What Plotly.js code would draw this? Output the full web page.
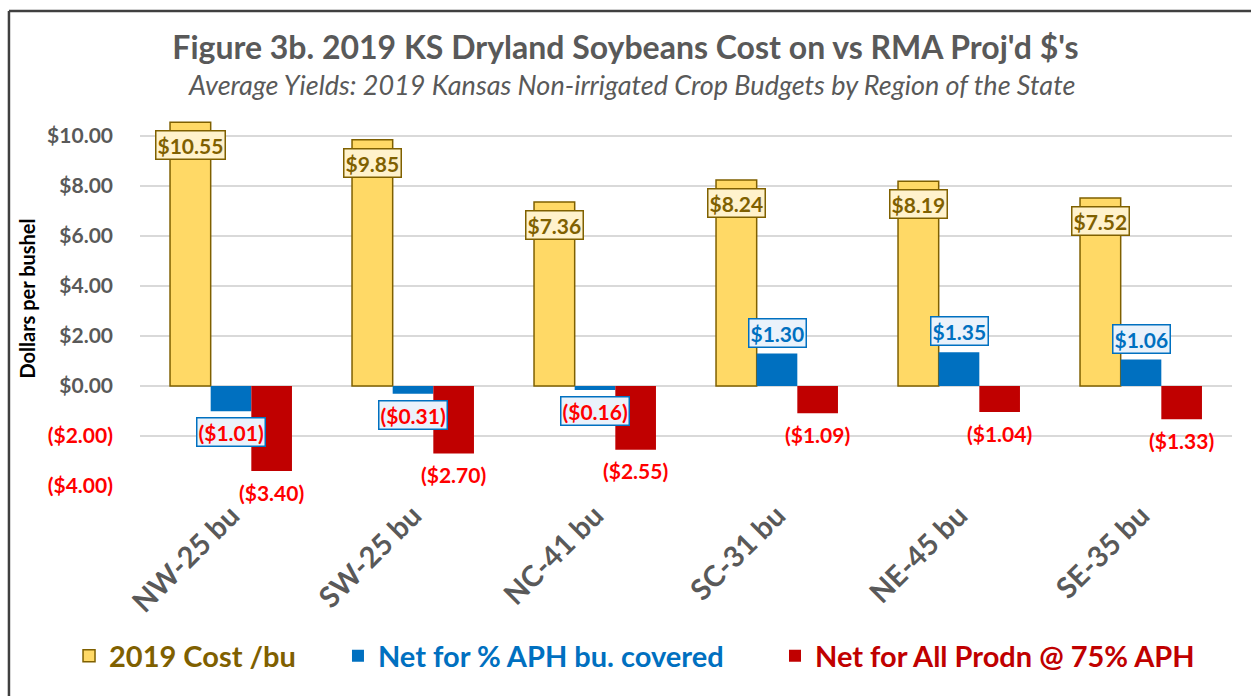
<!DOCTYPE html>
<html>
<head>
<meta charset="utf-8">
<script src="https://cdn.plot.ly/plotly-3.0.1.min.js"></script>
<style>html,body{margin:0;padding:0;background:#fff;}#chart{width:1251px;height:696px;}</style>
</head>
<body>
<div id="chart"></div>
<script>
// ---- data ----
const categories = ['NW-25 bu', 'SW-25 bu', 'NC-41 bu', 'SC-31 bu', 'NE-45 bu', 'SE-35 bu'];
const costPerBu = [10.55, 9.85, 7.36, 8.24, 8.19, 7.52];
const netAphCovered = [-1.01, -0.31, -0.16, 1.30, 1.35, 1.06];
const netAllProdn = [-3.40, -2.70, -2.55, -1.09, -1.04, -1.33];
const seriesNames = ['2019 Cost /bu', 'Net for % APH bu. covered', 'Net for All Prodn @ 75% APH'];
const yTickVals = [-4, -2, 0, 2, 4, 6, 8, 10];

// ---- style ----
const FONT = 'Lato, Carlito, "Liberation Sans", sans-serif';
const GOLD = '#FFD966', GOLD_DARK = '#7F6000';
const BLUE = '#0070C0', RED = '#C00000', RED_TXT = '#FF0000';
const GRAY = '#595959';

function money(v) {
  const s = '$' + Math.abs(v).toFixed(2);
  return v < 0 ? '(' + s + ')' : s;
}

const legendNames = [
  '<span style="color:' + GOLD_DARK + '">' + seriesNames[0] + '</span>',
  '<span style="color:' + BLUE + '">' + seriesNames[1] + '</span>',
  '<span style="color:' + RED + '">' + seriesNames[2] + '</span>'
];

const traces = [
  {type: 'bar', x: categories, y: costPerBu, name: legendNames[0], legend: 'legend', showlegend: true,
   marker: {color: GOLD, line: {color: GOLD_DARK, width: 1.5}}, hoverinfo: 'x+y'},
  {type: 'bar', x: categories, y: netAphCovered, name: legendNames[1], legend: 'legend2', showlegend: true,
   marker: {color: BLUE, line: {color: BLUE, width: 0}}, hoverinfo: 'x+y'},
  {type: 'bar', x: categories, y: netAllProdn, name: legendNames[2], legend: 'legend3', showlegend: true,
   marker: {color: RED, line: {color: RED, width: 0}}, hoverinfo: 'x+y'}
];

const BAR_PX = 40.7;
const LBL = 21;
const annotations = [];
categories.forEach((c, i) => {
  annotations.push({x: c, y: costPerBu[i], xref: 'x', yref: 'y', text: money(costPerBu[i]),
    showarrow: false, xshift: -BAR_PX, yshift: -23, xanchor: 'center', yanchor: 'middle',
    font: {family: FONT, size: LBL, color: GOLD_DARK, weight: 'bold'},
    bgcolor: '#FFF2CC', bordercolor: GOLD_DARK, borderwidth: 1.5, borderpad: 1});
  const nb = netAphCovered[i];
  annotations.push({x: c, y: nb, xref: 'x', yref: 'y', text: money(nb),
    showarrow: false, xshift: 0, yshift: nb >= 0 ? 21 : -21, xanchor: 'center', yanchor: 'middle',
    font: {family: FONT, size: LBL, color: nb >= 0 ? BLUE : RED_TXT, weight: 'bold'},
    bgcolor: '#EAF2FB', bordercolor: BLUE, borderwidth: 1.5, borderpad: 1});
  const nr = netAllProdn[i];
  annotations.push({x: c, y: nr, xref: 'x', yref: 'y', text: money(nr),
    showarrow: false, xshift: BAR_PX, yshift: nr >= 0 ? 21 : -21, xanchor: 'center', yanchor: 'middle',
    font: {family: FONT, size: LBL, color: RED_TXT, weight: 'bold'}});
});

// subtitle
annotations.push({xref: 'paper', yref: 'paper', x: 0.4505, y: 1.07, xanchor: 'center', yanchor: 'middle',
  showarrow: false, text: '<i>Average Yields: 2019 Kansas Non-irrigated Crop Budgets by Region of the State</i>',
  font: {family: FONT, size: 27, color: GRAY}});

const yTickText = yTickVals.map(v => v < 0
  ? '<span style="color:' + RED_TXT + '">' + money(v) + '</span>' : money(v));

const legendBase = {orientation: 'h', yanchor: 'middle', y: -0.453, xanchor: 'left',
  font: {family: FONT, size: 29, weight: 'bold'}, bgcolor: 'rgba(0,0,0,0)', itemclick: false};

const layout = {
  width: 1251, height: 696, showlegend: true,
  margin: {l: 140, r: 19, t: 111, b: 210, pad: 0},
  paper_bgcolor: '#fff', plot_bgcolor: '#fff',
  title: {text: "<b>Figure 3b. 2019 KS Dryland Soybeans Cost on vs RMA Proj'd $'s</b>",
    x: 0.5, xanchor: 'center', y: 0.931, yanchor: 'middle',
    font: {family: FONT, size: 32, color: GRAY}},
  barmode: 'group', bargap: 0.33, bargroupgap: 0,
  xaxis: {type: 'category', showgrid: false, showline: false, zeroline: false, ticks: '',
    tickangle: -45, tickfont: {family: FONT, size: 29, color: GRAY, weight: 'bold'},
    ticklabelstandoff: 6},
  yaxis: {range: [-4, 11], tickvals: yTickVals, ticktext: yTickText, showline: false,
    zeroline: false, showgrid: true, gridcolor: '#D9D9D9', gridwidth: 1.3, ticks: '',
    ticklabelstandoff: 26,
    tickfont: {family: FONT, size: 21, color: GRAY, weight: 'bold'},
    title: {text: 'Dollars per bushel', standoff: 6,
      font: {family: FONT, size: 20, color: '#000', weight: 'bold'}}},
  legend: Object.assign({}, legendBase, {x: -0.065}),
  legend2: Object.assign({}, legendBase, {x: 0.1813}),
  legend3: Object.assign({}, legendBase, {x: 0.5815}),
  annotations: annotations,
  shapes: [
    {type: 'line', xref: 'paper', yref: 'paper', x0: -0.12, x1: 1.02, y0: 1.2667, y1: 1.2667,
      line: {color: '#404040', width: 2.5}},
    {type: 'line', xref: 'paper', yref: 'paper', x0: -0.12, x1: -0.12, y0: 1.2667, y1: -0.6,
      line: {color: '#404040', width: 2.5}}
  ]
};

Plotly.newPlot('chart', traces, layout, {displayModeBar: false, staticPlot: true});
</script>
</body>
</html>
